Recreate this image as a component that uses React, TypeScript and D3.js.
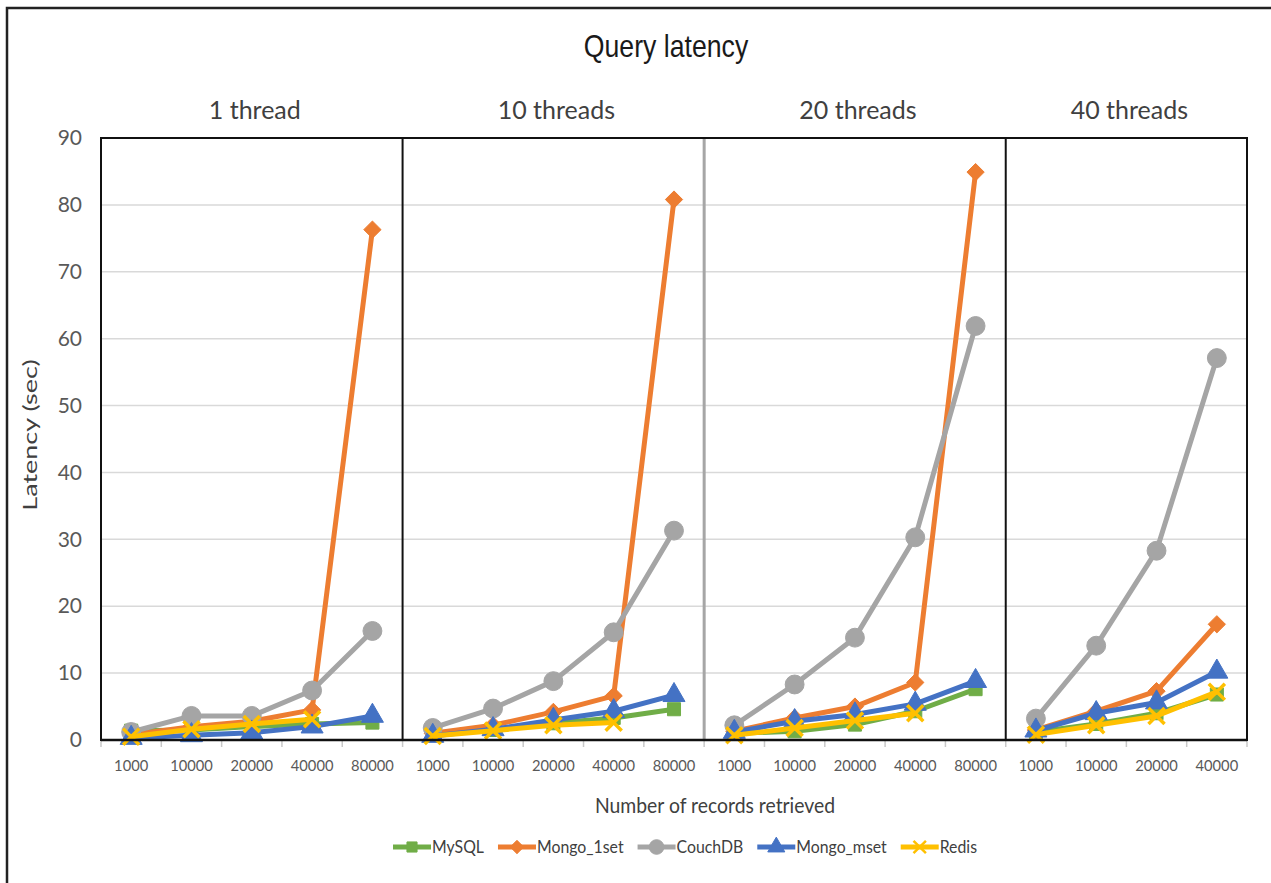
import React, { useEffect, useRef } from "react";
import * as d3 from "d3";

// panels and the record counts on each panel's x axis
const panels = ["1 thread", "10 threads", "20 threads", "40 threads"];
const panelRecords = [
  ["1000", "10000", "20000", "40000", "80000"],
  ["1000", "10000", "20000", "40000", "80000"],
  ["1000", "10000", "20000", "40000", "80000"],
  ["1000", "10000", "20000", "40000"],
];
const yTicks = [0, 10, 20, 30, 40, 50, 60, 70, 80, 90];

// latency (sec), one row per panel, Redis has no 80000 run
const mysql = [
  [1.4, 1.5, 2.0, 2.4, 2.6],
  [0.8, 1.5, 2.5, 3.3, 4.6],
  [1.0, 1.3, 2.3, 4.3, 7.6],
  [1.2, 2.4, 4.0, 6.8],
];
const mongo1set = [
  [0.8, 2.0, 2.8, 4.5, 76.3],
  [1.0, 2.2, 4.2, 6.6, 80.8],
  [1.3, 3.3, 5.0, 8.6, 84.9],
  [1.5, 4.3, 7.3, 17.3],
];
const couchdb = [
  [1.2, 3.6, 3.6, 7.4, 16.3],
  [1.8, 4.7, 8.8, 16.1, 31.3],
  [2.2, 8.3, 15.3, 30.3, 61.9],
  [3.2, 14.1, 28.3, 57.1],
];
const mongomset = [
  [0.3, 0.7, 1.1, 2.0, 3.6],
  [0.6, 1.6, 3.0, 4.3, 6.7],
  [1.2, 2.8, 3.8, 5.4, 8.8],
  [1.4, 4.0, 5.6, 10.2],
];
const redis = [
  [0.5, 1.6, 2.4, 3.1],
  [0.6, 1.4, 2.2, 2.6],
  [0.7, 1.8, 2.9, 4.0],
  [0.8, 2.2, 3.6, 7.2],
];

const series = [
  { name: "MySQL", color: "#70AD47", symbol: d3.symbolSquare, size: 170, values: mysql },
  { name: "Mongo_1set", color: "#ED7D31", symbol: d3.symbolDiamond2, size: 190, values: mongo1set },
  { name: "CouchDB", color: "#A5A5A5", symbol: d3.symbolCircle, size: 280, values: couchdb },
  { name: "Mongo_mset", color: "#4472C4", symbol: d3.symbolTriangle, size: 210, values: mongomset },
  { name: "Redis", color: "#FFC000", symbol: d3.symbolTimes, size: 170, values: redis },
];

const FONT = "Lato, 'Noto Sans', sans-serif";

export default function App() {
  const ref = useRef<SVGSVGElement>(null);

  useEffect(() => {
    const svg = d3.select(ref.current);
    svg.selectAll("*").remove();

    const left = 101;
    const right = 1247;
    const top = 138;
    const bottom = 740;

    const keys = panelRecords.flatMap((cats, p) => cats.map((c) => `${p}|${c}`));
    const x = d3.scaleBand().domain(keys).range([left, right]);
    const y = d3.scaleLinear().domain([0, 90]).range([bottom, top]);

    // outer frame
    svg
      .append("rect")
      .attr("x", 7)
      .attr("y", 8)
      .attr("width", 1290)
      .attr("height", 900)
      .attr("fill", "#fff")
      .attr("stroke", "#222")
      .attr("stroke-width", 2.5);

    // title
    svg
      .append("text")
      .attr("transform", "translate(666,57) scale(0.86,1)")
      .attr("text-anchor", "middle")
      .attr("font-family", "'Liberation Sans', Arial, sans-serif")
      .attr("font-size", 31)
      .attr("fill", "#1a1a1a")
      .text("Query latency");

    // gridlines
    svg
      .append("g")
      .selectAll("line")
      .data(yTicks.filter((t) => t > 0 && t < 90))
      .join("line")
      .attr("x1", left)
      .attr("x2", right)
      .attr("y1", (d) => y(d))
      .attr("y2", (d) => y(d))
      .attr("stroke", "#d9d9d9")
      .attr("stroke-width", 1.5);

    // boundary ticks below axis
    svg
      .append("g")
      .selectAll("line")
      .data([...keys.map((k) => x(k)!), right])
      .join("line")
      .attr("x1", (d) => d)
      .attr("x2", (d) => d)
      .attr("y1", bottom)
      .attr("y2", bottom + 7)
      .attr("stroke", "#c8c8c8")
      .attr("stroke-width", 1.5);

    // panel dividers
    const dividerColors = ["#111", "#a6a6a6", "#111"];
    svg
      .append("g")
      .selectAll("line")
      .data([1, 2, 3])
      .join("line")
      .attr("x1", (p) => x(`${p}|1000`)!)
      .attr("x2", (p) => x(`${p}|1000`)!)
      .attr("y1", top)
      .attr("y2", bottom)
      .attr("stroke", (p) => dividerColors[p - 1])
      .attr("stroke-width", (p) => (p === 2 ? 3 : 2));

    // plot frame
    svg
      .append("rect")
      .attr("x", left)
      .attr("y", top)
      .attr("width", right - left)
      .attr("height", bottom - top)
      .attr("fill", "none")
      .attr("stroke", "#111")
      .attr("stroke-width", 2);

    // panel titles
    svg
      .append("g")
      .selectAll("text")
      .data(panels)
      .join("text")
      .attr("x", (d, p) => {
        const cats = panelRecords[p];
        const x0 = x(`${p}|${cats[0]}`)!;
        const x1 = x(`${p}|${cats[cats.length - 1]}`)! + x.bandwidth();
        return (x0 + x1) / 2 + 3;
      })
      .attr("y", 119)
      .attr("text-anchor", "middle")
      .attr("font-family", FONT)
      .attr("font-size", 25)
      .attr("fill", "#404040")
      .text((d) => d);

    // series
    const line = d3
      .line<[number, number]>()
      .x((d) => d[0])
      .y((d) => d[1]);

    series.forEach((s) => {
      const g = svg.append("g");
      s.values.forEach((vals, p) => {
        const pts: [number, number][] = vals.map((v, i) => [
          x(`${p}|${panelRecords[p][i]}`)! + x.bandwidth() / 2,
          y(v),
        ]);
        g.append("path")
          .attr("d", line(pts))
          .attr("fill", "none")
          .attr("stroke", s.color)
          .attr("stroke-width", 5)
          .attr("stroke-linejoin", "round");
        const stroked = s.symbol === d3.symbolTimes;
        g.selectAll(null)
          .data(pts)
          .join("path")
          .attr("transform", (d) => `translate(${d[0]},${d[1]})`)
          .attr("d", d3.symbol(s.symbol, s.size)())
          .attr("fill", stroked ? "none" : s.color)
          .attr("stroke", s.color)
          .attr("stroke-width", stroked ? 3.5 : 1);
      });
    });

    // y axis
    svg
      .append("g")
      .attr("transform", `translate(${left},0)`)
      .call(d3.axisLeft(y).tickValues(yTicks).tickSize(0).tickPadding(19))
      .call((g) => g.select(".domain").remove())
      .call((g) =>
        g
          .selectAll("text")
          .attr("font-family", FONT)
          .attr("font-size", 21)
          .attr("fill", "#595959")
      );

    // x axis labels
    svg
      .append("g")
      .attr("transform", `translate(0,${bottom})`)
      .call(
        d3
          .axisBottom(x)
          .tickSize(0)
          .tickPadding(20)
          .tickFormat((k) => k.split("|")[1])
      )
      .call((g) => g.select(".domain").remove())
      .call((g) =>
        g
          .selectAll("text")
          .attr("font-family", FONT)
          .attr("font-size", 16)
          .attr("fill", "#595959")
          .attr("transform", "scale(0.92,1)")
      );

    // axis line
    svg
      .append("line")
      .attr("x1", left)
      .attr("x2", right)
      .attr("y1", bottom)
      .attr("y2", bottom)
      .attr("stroke", "#111")
      .attr("stroke-width", 2.5);

    // axis titles
    svg
      .append("text")
      .attr("transform", "translate(715,813) scale(0.88,1)")
      .attr("text-anchor", "middle")
      .attr("font-family", FONT)
      .attr("font-size", 22)
      .attr("fill", "#404040")
      .text("Number of records retrieved");

    svg
      .append("text")
      .attr("transform", "translate(37,435) rotate(-90) scale(1.35,1)")
      .attr("text-anchor", "middle")
      .attr("font-family", FONT)
      .attr("font-size", 20)
      .attr("fill", "#404040")
      .text("Latency (sec)");

    // legend
    const legend = svg.append("g");
    const items = legend
      .selectAll("g")
      .data(series)
      .join("g");
    items
      .append("line")
      .attr("x1", 0)
      .attr("x2", 38)
      .attr("y1", 0)
      .attr("y2", 0)
      .attr("stroke", (d) => d.color)
      .attr("stroke-width", 5);
    items
      .append("path")
      .attr("transform", "translate(19,0)")
      .attr("d", (d) => d3.symbol(d.symbol, d.size * 0.6)())
      .attr("fill", (d) => (d.symbol === d3.symbolTimes ? "none" : d.color))
      .attr("stroke", (d) => d.color)
      .attr("stroke-width", (d) => (d.symbol === d3.symbolTimes ? 2.5 : 1));
    const labels = items
      .append("text")
      .attr("transform", "translate(39,6) scale(0.88,1)")
      .attr("font-family", FONT)
      .attr("font-size", 18)
      .attr("fill", "#404040")
      .text((d) => d.name);

    const widths: number[] = [];
    labels.each(function () {
      widths.push((this as SVGTextElement).getComputedTextLength() * 0.88);
    });
    const gap = 14;
    const itemW = widths.map((w) => 39 + w);
    const total = d3.sum(itemW) + gap * (itemW.length - 1);
    let cx = 685 - total / 2;
    items.attr("transform", (d, i) => {
      const t = `translate(${cx},847)`;
      cx += itemW[i] + gap;
      return t;
    });
  }, []);

  return (
    <svg
      ref={ref}
      width={1271}
      height={883}
      style={{ position: "absolute", left: 0, top: 0, background: "#fff" }}
    />
  );
}
